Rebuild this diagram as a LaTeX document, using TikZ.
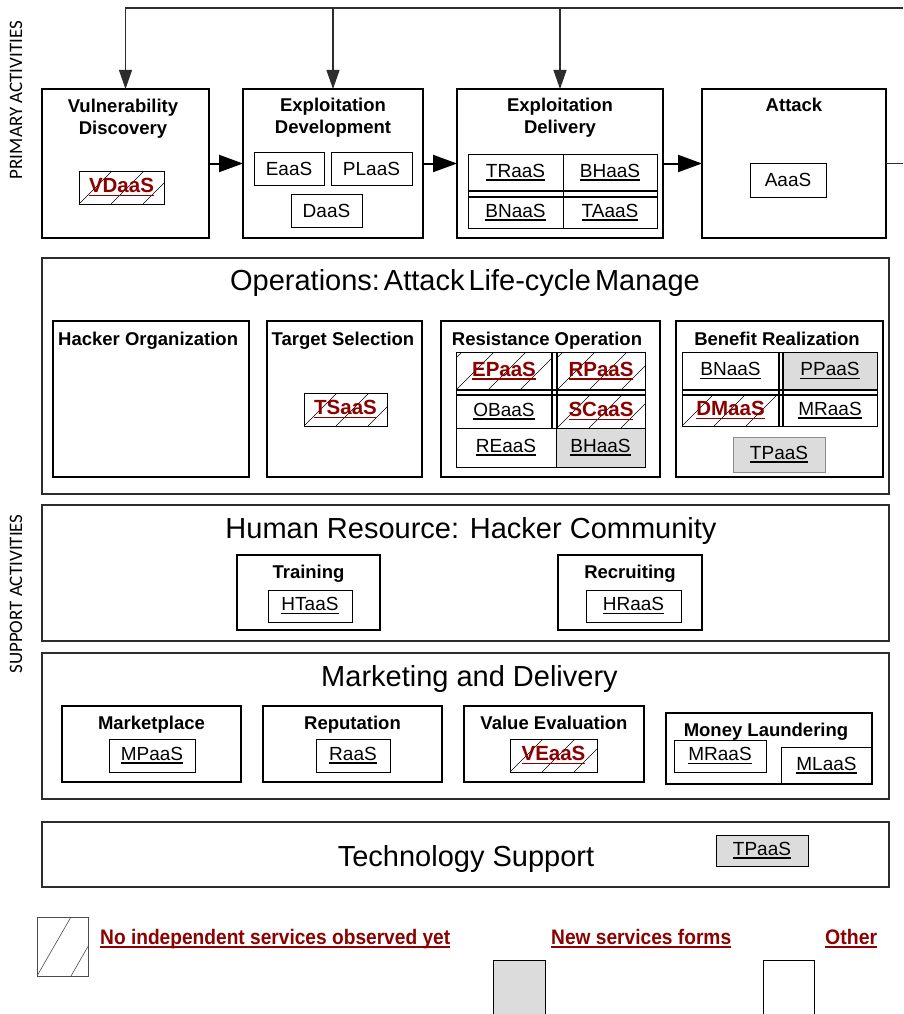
\documentclass[tikz,border=0pt]{standalone}
\usepackage{fontspec}
\usepackage{graphicx}
\setmainfont{Liberation Sans}
\newfontfamily\sidefont{Carlito}
\usetikzlibrary{arrows.meta}
\definecolor{dred}{RGB}{140,0,0}
\definecolor{gry}{RGB}{220,220,220}
\definecolor{ln}{RGB}{45,45,45}

% thick underline under a piece of text
\newcommand\ulk[1]{\setbox0\hbox{#1}\rlap{\rule[-3.5pt]{\wd0}{1.8pt}}\box0}
% label of a service not yet seen on its own
\newcommand\hx[1]{{\color{dred}\fontsize{20.5}{22}\selectfont\bfseries\ulk{#1}}}
% rectangle node given by its corners: [style]{name}{x1}{y1}{x2}{y2}{text}
\newcommand\mkbox[7][]{\node[inner sep=0pt,outer sep=0pt,#1,anchor=north west,
  minimum width={#5-#3},minimum height={#6-#4}] (#2) at (#3,#4) {#7};}
\newcommand\svf{\fontsize{19}{21}\selectfont}

\tikzset{
  prim/.style={draw, line width=2.6pt},
  sec/.style={draw=ln, line width=1.1pt},
  sub/.style={draw, line width=1.1pt},
  svc/.style={draw, line width=0.9pt, font=\svf},
  cell/.style={draw, line width=0.8pt, font=\svf},
  gfill/.style={fill=gry},
  hatch/.style={path picture={\foreach \k in {-3,...,6}{
      \draw[line width=0.5pt] ([xshift=\k*32pt]path picture bounding box.south west) -- ++(80pt,80pt);}}},
  hatchL/.style={path picture={\foreach \k in {-3,...,3}{
      \draw[line width=0.6pt] ([xshift=\k*34pt]path picture bounding box.south west) -- ++(46pt,80pt);}}},
  ttl/.style={font=\fontsize{18.5}{22}\selectfont\bfseries, inner sep=0pt},
  big/.style={font=\fontsize{29}{34}\selectfont, inner sep=0pt},
  dbl/.style={line width=2.5pt},
  fb/.style={draw=ln, line width=1.1pt, -{Triangle[length=19pt,width=13pt]}},
  parr/.style={draw, line width=2pt, -{Triangle[length=24pt,width=17pt]}},
  side/.style={font=\sidefont\fontsize{19}{21}\selectfont, rotate=90, inner sep=0pt}
}

\begin{document}
\begin{tikzpicture}[x=1pt,y=-1pt]
\clip (0,0) rectangle (903,1014);
\fill[white] (0,0) rectangle (903,1014);

% ---------------- side captions
\node[side] (lblP) at (16,100) {PRIMARY ACTIVITIES};
\node[side] (lblS) at (16,594) {SUPPORT ACTIVITIES};

% ---------------- primary activities
\mkbox[prim]{vd}{42}{89}{209}{238}{}
\mkbox[prim]{ed}{243}{89}{423}{238}{}
\mkbox[prim]{edl}{457}{89}{663}{238}{}
\mkbox[prim]{atk}{702}{89}{886}{238}{}

\node[ttl, anchor=base] (vdT1) at (123,113) {Vulnerability};
\node[ttl, anchor=base] (vdT2) at (123,135) {Discovery};
\node[ttl, anchor=base] (edT1) at (333,112) {Exploitation};
\node[ttl, anchor=base] (edT2) at (333,134) {Development};
\node[ttl, anchor=base] (edlT1) at (560,112) {Exploitation};
\node[ttl, anchor=base] (edlT2) at (560,134) {Delivery};
\node[ttl, anchor=base] (atkT) at (794,112) {Attack};

\mkbox[svc,hatch]{vdaas}{79}{171}{164}{204}{\hx{VDaaS}}
\mkbox[svc]{eaas}{254}{152}{324}{185}{EaaS}
\mkbox[svc]{plaas}{331}{152}{412}{185}{PLaaS}
\mkbox[svc]{daas}{291}{194}{362}{227}{DaaS}

\mkbox[cell]{edlg}{468}{154}{657}{228}{}
\mkbox[cell]{traas}{468}{154}{563}{191}{\ulk{TRaaS}}
\mkbox[cell]{bhaas}{563}{154}{657}{191}{\ulk{BHaaS}}
\mkbox[cell]{bnaas}{468}{197}{563}{228}{\ulk{BNaaS}}
\mkbox[cell]{taaas}{563}{197}{657}{228}{\ulk{TAaaS}}
\draw[cell] (traas.south east) -- (bnaas.north east);
\draw[dbl] (traas.south west) -- (bhaas.south east);
\draw[dbl] (bnaas.north west) -- (taaas.north east);

\mkbox[svc]{aaas}{750}{163}{826}{197}{AaaS}

% flow between primary activities
\draw[parr] (vd.east) -- (ed.west);
\draw[parr] (ed.east) -- (edl.west);
\draw[parr] (edl.east) -- (atk.west);
\coordinate (stubR) at (903,163.5);
\draw[draw=ln, line width=1.1pt] (atk.east) -- (stubR);

% feedback line along the top
\coordinate (fbR) at (903,8);
\draw[fb] (fbR) -| (vd.north);
\draw[fb] (ed.north |- fbR) -- (ed.north);
\draw[fb] (edl.north |- fbR) -- (edl.north);

% ---------------- operations
\mkbox[sec]{ops}{42}{258}{889}{494}{}
\node[big, anchor=base] (opsT) at (465,290) {Operations:\hspace{4pt}Attack\hspace{4pt}Life-cycle\hspace{4pt}Manage};

\mkbox[sub]{hack}{53}{321}{249}{477}{}
\node[ttl, anchor=base west] (hackT) at (58,345) {Hacker Organization};

\mkbox[sub]{tsel}{267}{321}{422}{477}{}
\node[ttl, anchor=base] (tselT) at (343,345) {Target Selection};
\mkbox[svc,hatch]{tsaas}{304}{393}{387}{426}{\hx{TSaaS}}

\mkbox[sub]{res}{441}{321}{660}{477}{}
\node[ttl, anchor=base] (resT) at (547,345) {Resistance Operation};
\mkbox[cell]{resg}{456}{352}{645}{467}{}
\mkbox[cell,hatch]{epaas}{456}{352}{552}{390}{\hx{EPaaS}}
\mkbox[cell,hatch]{rpaas}{557}{352}{645}{390}{\hx{RPaaS}}
\mkbox[cell]{obaas}{456}{395}{552}{428}{\ulk{OBaaS}}
\mkbox[cell,hatch]{scaas}{557}{395}{645}{428}{\hx{SCaaS}}
\mkbox[cell]{reaas}{456}{428}{556}{467}{\ulk{REaaS}}
\mkbox[cell,gfill]{bhaas2}{556}{428}{645}{467}{\ulk{BHaaS}}
\draw[dbl] (epaas.south west) -- (rpaas.south east);
\draw[dbl] (obaas.north west) -- (scaas.north east);
\draw[dbl] (epaas.north east) -- (obaas.south east);
\draw[dbl] (rpaas.north west) -- (scaas.south west);

\mkbox[sub]{ben}{676}{321}{883}{477}{}
\node[ttl, anchor=base] (benT) at (777,345) {Benefit Realization};
\mkbox[cell]{beng}{682}{352}{877}{426}{}
\mkbox[cell]{bnaas2}{682}{352}{779}{390}{\ulk{BNaaS}}
\mkbox[cell,gfill]{ppaas}{783}{352}{877}{390}{\ulk{PPaaS}}
\mkbox[cell,hatch]{dmaas}{682}{395}{779}{426}{\hx{DMaaS}}
\mkbox[cell]{mraas}{783}{395}{877}{426}{\ulk{MRaaS}}
\draw[dbl] (bnaas2.south west) -- (ppaas.south east);
\draw[dbl] (dmaas.north west) -- (mraas.north east);
\draw[dbl] (bnaas2.north east) -- (dmaas.south east);
\draw[dbl] (ppaas.north west) -- (mraas.south west);
\mkbox[svc,gfill,draw=black!45]{tpaas}{733}{437}{825}{472}{\ulk{TPaaS}}

% ---------------- human resource
\mkbox[sec]{hr}{42}{505}{889}{641}{}
\node[big, anchor=base] (hrT) at (471,538.5) {Human Resource: Hacker Community};
\mkbox[sub]{trn}{237}{555}{380}{630}{}
\node[ttl, anchor=base] (trnT) at (308.5,578) {Training};
\mkbox[svc]{htaas}{268}{590}{352}{622}{\ulk{HTaaS}}
\mkbox[sub]{rec}{558}{555}{702}{630}{}
\node[ttl, anchor=base] (recT) at (630,578) {Recruiting};
\mkbox[svc]{hraas}{586}{590}{681}{622}{\ulk{HRaaS}}

% ---------------- marketing and delivery
\mkbox[sec]{mkt}{42}{653}{889}{799}{}
\node[big, anchor=base] (mktT) at (469.5,686) {Marketing and Delivery};
\mkbox[sub]{mpl}{62}{706}{241}{782}{}
\node[ttl, anchor=base] (mplT) at (151.5,729) {Marketplace};
\mkbox[svc]{mpaas}{109}{739}{195}{772}{\ulk{MPaaS}}
\mkbox[sub]{rep}{263}{706}{442}{782}{}
\node[ttl, anchor=base] (repT) at (352.5,729) {Reputation};
\mkbox[svc]{raas}{316}{739}{390}{772}{\ulk{RaaS}}
\mkbox[sub]{val}{464}{706}{644}{782}{}
\node[ttl, anchor=base] (valT) at (554,729) {Value Evaluation};
\mkbox[svc,hatch]{veaas}{510}{739}{597}{772}{\hx{VEaaS}}
\mkbox[sub]{mlr}{666}{713}{872}{784}{}
\node[ttl, anchor=base] (mlrT) at (766,736) {Money Laundering};
\mkbox[svc]{mraas2}{674}{740}{766}{772}{\ulk{MRaaS}}
\mkbox[svc]{mlaas}{781}{747}{872}{784}{\ulk{MLaaS}}

% ---------------- technology support
\mkbox[sec]{tech}{42}{822}{889}{887}{}
\node[big, anchor=base] (techT) at (466,866) {Technology Support};
\mkbox[svc,gfill]{tpaas2}{716}{835}{808}{866}{\ulk{TPaaS}}

% ---------------- key
\mkbox[svc,hatchL,draw=black!70]{keyH}{37}{917}{88}{976}{}
\node[anchor=base west, inner sep=0pt] (keyHT) at (100,944)
  {\resizebox{350pt}{\height}{\color{dred}\bfseries\fontsize{21}{24}\selectfont\ulk{No independent services observed yet}}};
\node[anchor=base west, inner sep=0pt] (keyNT) at (551,944)
  {\resizebox{180pt}{\height}{\color{dred}\bfseries\fontsize{21}{24}\selectfont\ulk{New services forms}}};
\node[anchor=base west, inner sep=0pt] (keyOT) at (825,944)
  {\resizebox{52pt}{\height}{\color{dred}\bfseries\fontsize{21}{24}\selectfont\ulk{Other}}};
\mkbox[svc,gfill]{keyN}{493}{960}{545}{1020}{}
\mkbox[svc]{keyO}{763}{960}{814}{1020}{}
\end{tikzpicture}
\end{document}
